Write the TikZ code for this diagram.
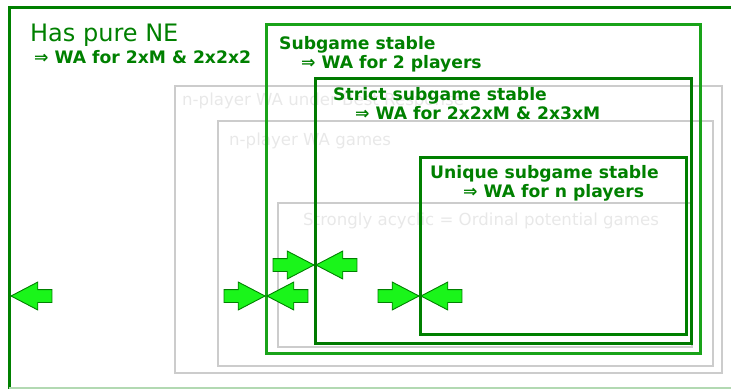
\documentclass[tikz,border=0pt]{standalone}
\usepackage{fontspec}
\setmainfont{DejaVu Sans}
\usepackage{xcolor}
\usetikzlibrary{shapes.arrows}

\definecolor{negreen}{HTML}{008000}
\definecolor{sgreen}{HTML}{19A319}
\definecolor{stgreen}{HTML}{007A00}
\definecolor{arrfill}{HTML}{1AF51A}

\tikzset{
  graybox/.style={draw=black!20, line width=1.3pt},
  graytext/.style={text=black!9, font=\fontsize{16.6}{19}\selectfont, anchor=base west, inner sep=0pt},
  greenbox/.style={draw=#1, line width=3pt},
  title/.style={text=negreen, font=\bfseries\fontsize{17.2}{20}\selectfont, anchor=base west, inner sep=0pt},
  blockarrow/.style={single arrow, draw=negreen, fill=arrfill, line width=0.9pt,
    inner sep=6pt, single arrow head extend=7.5pt, single arrow tip angle=55,
    minimum height=41pt, anchor=tip},
  pointleft/.style={blockarrow, shape border rotate=180},
}

\begin{document}
\begin{tikzpicture}[x=1pt, y=-1pt]
  \useasboundingbox (0,0) rectangle (731,389);

  % gray classes
  \draw[graybox] (175,86) rectangle (722,373);
  \draw[graybox] (218,121) rectangle (713,366);
  \draw[graybox] (278,203) rectangle (692,347);
  \node[graytext] (br) at (182,105) {n-player WA under Best Response};
  \node[graytext] (wa) at (229,145) {n-player WA games};
  \node[graytext] (sa) at (303,225) {Strongly acyclic = Ordinal potential games};

  % pure NE
  \draw[negreen, line width=3pt] (731,7) -- (9,7) -- (9,389);
  \draw[negreen!30, line width=1.5pt] (9,388) -- (731,388);
  \node[text=negreen, font=\fontsize{24}{28}\selectfont, anchor=base west, inner sep=0pt] (ne) at (30,41) {Has pure NE};
  \node[title] (ne2) at (34,63) {⇒ WA for 2xM \& 2x2x2};

  % subgame stable
  \draw[greenbox=sgreen] (266,24) rectangle (700,353);
  \draw[greenbox=stgreen] (315,78) rectangle (691,343);
  \draw[greenbox=negreen] (420,157) rectangle (686,334);
  \node[title] (sg) at (279,49) {Subgame stable};
  \node[title] (sg2) at (301,68.5) {⇒ WA for 2 players};
  \node[title] (st) at (333,100) {Strict subgame stable};
  \node[title] (st2) at (355,119) {⇒ WA for 2x2xM \& 2x3xM};
  \node[title] (un) at (430,178) {Unique subgame stable};
  \node[title] (un2) at (463,197.5) {⇒ WA for n players};

  % arrows
  \node[pointleft] (a1) at (10,296) {};
  \node[blockarrow] (a2) at (266,296) {};
  \node[pointleft] (a3) at (266,296) {};
  \node[blockarrow] (a4) at (315,265) {};
  \node[pointleft] (a5) at (315,265) {};
  \node[blockarrow] (a6) at (420,296) {};
  \node[pointleft] (a7) at (420,296) {};
\end{tikzpicture}
\end{document}
